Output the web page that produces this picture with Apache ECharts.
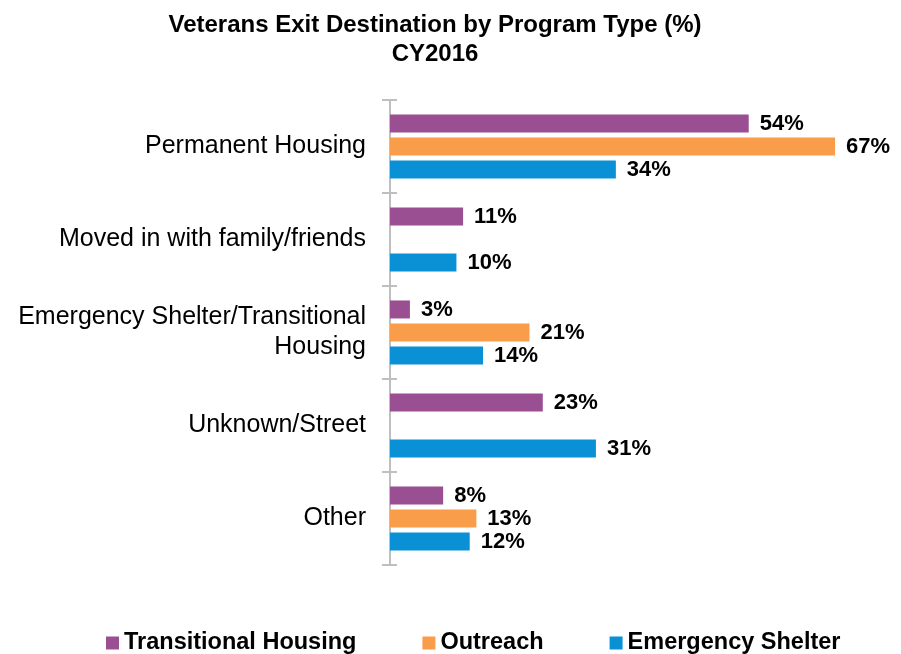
<!DOCTYPE html>
<html>
<head>
<meta charset="utf-8">
<script src="https://cdn.jsdelivr.net/npm/echarts@6/dist/echarts.min.js"></script>
<style>
  html, body { margin: 0; padding: 0; background: #fff; }
  #main { width: 901px; height: 654px; }
</style>
</head>
<body>
<div id="main"></div>
<script>
// destinations, top to bottom
var categories = ['Permanent Housing', 'Moved in with family/friends', 'Emergency Shelter/Transitional\nHousing', 'Unknown/Street', 'Other'];
var seriesNames = ['Transitional Housing', 'Outreach', 'Emergency Shelter'];
var transitional = [54, 11, 3, 23, 8];
var outreach = [67, '-', 21, '-', 13];   // no outreach bar for 2 rows
var emergency = [34, 10, 14, 31, 12];

var chart = echarts.init(document.getElementById('main'));
var FONT = '"Liberation Sans", Arial, sans-serif';

function barSeries(name, data) {
  return {
    name: name,
    type: 'bar',
    data: data,
    barWidth: 18,
    barGap: '28%',
    label: {
      show: true,
      position: 'right',
      distance: 11,
      formatter: '{c}%',
      color: '#000',
      fontFamily: FONT,
      fontWeight: 'bold',
      fontSize: 22
    }
  };
}

chart.setOption({
  animation: false,
  color: ['#9A4F93', '#FA9D4A', '#0A90D5'],
  title: {
    text: 'Veterans Exit Destination by Program Type (%)\nCY2016',
    left: 430,
    textAlign: 'center',
    top: 6,
    textStyle: {
      fontFamily: FONT,
      fontWeight: 'bold',
      fontSize: 24,
      lineHeight: 29,
      color: '#000'
    }
  },
  legend: {
    data: seriesNames,
    top: 626,
    left: 101,
    icon: 'rect',
    itemWidth: 13,
    itemHeight: 13,
    itemGap: 66,
    textStyle: {
      fontFamily: FONT,
      fontWeight: 'bold',
      fontSize: 23.5,
      color: '#000'
    }
  },
  grid: {
    left: 390,
    right: 46,
    top: 100,
    bottom: 89,
    containLabel: false
  },
  xAxis: {
    type: 'value',
    min: 0,
    max: 70,
    show: false
  },
  yAxis: [{
    type: 'category',
    data: categories,
    inverse: true,
    axisLine: { lineStyle: { color: '#BFBFBF', width: 2 } },
    axisTick: { show: true, length: 8, lineStyle: { color: '#BFBFBF', width: 2 } },
    axisLabel: {
      margin: 24,
      color: '#000',
      fontFamily: FONT,
      fontSize: 25,
      lineHeight: 30,
      align: 'right'
    }
  }, {
    // second copy of the axis only to draw the inner half of the ticks
    type: 'category',
    data: categories,
    inverse: true,
    position: 'left',
    axisLine: { show: false },
    axisTick: { show: true, inside: true, length: 7, lineStyle: { color: '#BFBFBF', width: 2 } },
    axisLabel: { show: false }
  }],
  series: [
    barSeries(seriesNames[0], transitional),
    barSeries(seriesNames[1], outreach),
    barSeries(seriesNames[2], emergency)
  ]
});
</script>
</body>
</html>
